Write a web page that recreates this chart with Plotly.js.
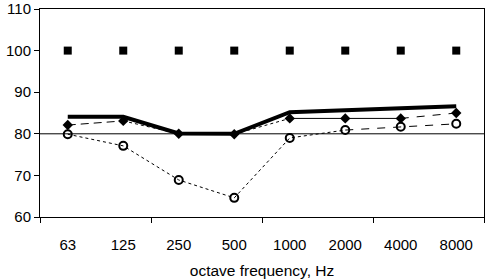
<!DOCTYPE html>
<html>
<head>
<meta charset="utf-8">
<script src="https://cdn.plot.ly/plotly-3.0.1.min.js"></script>
<style>html,body{margin:0;padding:0;background:#fff;}#chart{width:485px;height:279px;}</style>
</head>
<body>
<div id="chart"></div>
<script>
var categories = ["63", "125", "250", "500", "1000", "2000", "4000", "8000"];
var squareValues = [100, 100, 100, 100, 100, 100, 100, 100];
var thickLineValues = [84.1, 84.1, 80.1, 80.0, 85.2, 85.7, 86.1, 86.6];
var diamondValues = [82.1, 83.1, 80.0, 79.9, 83.7, 83.7, 83.7, 85.0];
var circleValues = [79.9, 77.1, 68.9, 64.6, 79.0, 80.9, 81.7, 82.4];
var referenceLevel = 80;
var yTickValues = [60, 70, 80, 90, 100, 110];
var xAxisTitle = "octave frequency, Hz";

var idx = categories.map(function (c, i) { return i; });
function seg(arr, a, b) { return { x: idx.slice(a, b + 1), y: arr.slice(a, b + 1) }; }

var traces = [];
var c1 = seg(circleValues, 0, 5);
traces.push({ x: c1.x, y: c1.y, mode: "lines", line: { color: "#000", width: 1, dash: "dot" }, hoverinfo: "skip" });
var c2 = seg(circleValues, 5, 7);
traces.push({ x: c2.x, y: c2.y, mode: "lines", line: { color: "#000", width: 1, dash: "8px,8px" }, hoverinfo: "skip" });
var d1 = seg(diamondValues, 0, 1);
traces.push({ x: d1.x, y: d1.y, mode: "lines", line: { color: "#000", width: 1, dash: "8px,5px" }, hoverinfo: "skip" });
var d2 = seg(diamondValues, 1, 4);
traces.push({ x: d2.x, y: d2.y, mode: "lines", line: { color: "#000", width: 1, dash: "dot" }, hoverinfo: "skip" });
var d3 = seg(diamondValues, 4, 6);
traces.push({ x: d3.x, y: d3.y, mode: "lines", line: { color: "#000", width: 1 }, hoverinfo: "skip" });
var d4 = seg(diamondValues, 6, 7);
traces.push({ x: d4.x, y: d4.y, mode: "lines", line: { color: "#000", width: 1, dash: "8px,8px" }, hoverinfo: "skip" });
traces.push({ x: idx, y: thickLineValues, mode: "lines", line: { color: "#000", width: 4 } });
traces.push({ x: idx, y: diamondValues, mode: "markers", marker: { symbol: "diamond", size: 8, color: "#000" } });
traces.push({ x: idx, y: circleValues, mode: "markers", marker: { symbol: "circle-open", size: 8, color: "#000", line: { width: 2, color: "#000" } } });
traces.push({ x: idx, y: squareValues, mode: "markers", marker: { symbol: "square", size: 8, color: "#000" } });
traces.push({ x: [-0.5, 7.5], y: [null, null], xaxis: "x2", mode: "markers", hoverinfo: "skip" });

var fnt = { family: "Liberation Sans, Arial, sans-serif", size: 15, color: "#000" };
var titleFnt = { family: "Liberation Sans, Arial, sans-serif", size: 15.5, color: "#000" };
var layout = {
  width: 485, height: 279,
  margin: { l: 40, r: 1, t: 9, b: 62 },
  paper_bgcolor: "#fff", plot_bgcolor: "#fff",
  showlegend: false,
  font: fnt,
  xaxis: {
    range: [-0.5, 7.5], tickvals: idx, ticktext: categories, ticks: "",
    showgrid: false, zeroline: false, showline: true, linecolor: "#000", linewidth: 1, mirror: true,
    ticklabelstandoff: 14, tickfont: fnt,
    title: { text: xAxisTitle, font: titleFnt, standoff: 17 }
  },
  xaxis2: {
    overlaying: "x", anchor: "y", side: "bottom", range: [-0.5, 7.5],
    tickvals: [-0.5, 1.5, 3.5, 5.5, 7.5], ticktext: ["", "", "", "", ""],
    ticks: "outside", ticklen: 5, tickcolor: "#000", showgrid: false, zeroline: false, showline: false
  },
  yaxis: {
    range: [60, 110], tickvals: yTickValues, ticks: "outside", ticklen: 5, tickcolor: "#000",
    showgrid: false, zeroline: false, showline: true, linecolor: "#000", linewidth: 1, mirror: true,
    tickfont: fnt, ticklabeloverflow: "allow", automargin: false
  },
  shapes: [{ type: "line", xref: "paper", x0: 0, x1: 1, yref: "y", y0: referenceLevel, y1: referenceLevel, line: { color: "#000", width: 1 }, layer: "below" }]
};
Plotly.newPlot("chart", traces, layout, { staticPlot: true, displayModeBar: false });
</script>
</body>
</html>
